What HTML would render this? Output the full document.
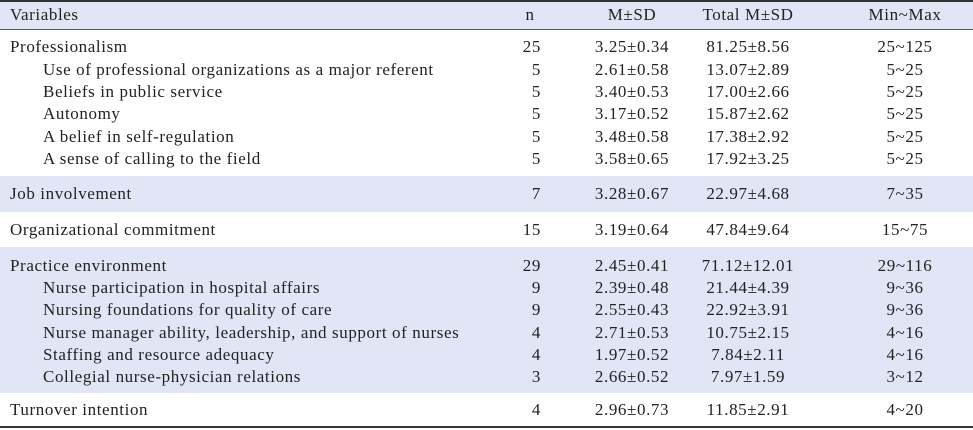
<!DOCTYPE html>
<html><head><meta charset="utf-8"><style>
body{margin:0;width:973px;height:430px;background:#fff;position:relative;overflow:hidden;font-family:"Liberation Serif",serif;font-size:17px;letter-spacing:0.6px;color:#222}
.band{position:absolute;left:0;width:973px;background:#e1e6f7}
.line{position:absolute;left:0;width:973px;background:#333}
.t{position:absolute;white-space:nowrap;line-height:20px}
.c{transform:translateX(-50%)}
.r{transform:translateX(-100%)}
</style></head><body>
<div class="band" style="top:2px;height:27px"></div>
<div class="line" style="top:0;height:2px"></div>
<div class="line" style="top:29px;height:1px;background:#555"></div>
<div class="band" style="top:176px;height:36px"></div>
<div class="band" style="top:247px;height:146px"></div>
<div class="line" style="top:426px;height:2px"></div>
<div id="tbl"></div>
<script>
const headers=["Variables","n","M±SD","Total M±SD","Min~Max"];
const labels=["Professionalism","Use of professional organizations as a major referent","Beliefs in public service","Autonomy","A belief in self-regulation","A sense of calling to the field","Job involvement","Organizational commitment","Practice environment","Nurse participation in hospital affairs","Nursing foundations for quality of care","Nurse manager ability, leadership, and support of nurses","Staffing and resource adequacy","Collegial nurse-physician relations","Turnover intention"];
const indent=[0,1,1,1,1,1,0,0,0,1,1,1,1,1,0];
const nVals=["25","5","5","5","5","5","7","15","29","9","9","4","4","3","4"];
const msd=["3.25±0.34","2.61±0.58","3.40±0.53","3.17±0.52","3.48±0.58","3.58±0.65","3.28±0.67","3.19±0.64","2.45±0.41","2.39±0.48","2.55±0.43","2.71±0.53","1.97±0.52","2.66±0.52","2.96±0.73"];
const tot=["81.25±8.56","13.07±2.89","17.00±2.66","15.87±2.62","17.38±2.92","17.92±3.25","22.97±4.68","47.84±9.64","71.12±12.01","21.44±4.39","22.92±3.91","10.75±2.15","7.84±2.11","7.97±1.59","11.85±2.91"];
const mm=["25~125","5~25","5~25","5~25","5~25","5~25","7~35","15~75","29~116","9~36","9~36","4~16","4~16","3~12","4~20"];
const rowY=[47,70,92,114,137,159,194,230,266,288,310,333,355,377,410];
const tbl=document.getElementById('tbl');
function add(txt,x,y,cls,name){const d=document.createElement('div');d.className='t '+cls;d.textContent=txt;d.style.left=x+'px';d.style.top=(y-10)+'px';


tbl.appendChild(d);}
const hx=[10,530,632,748,905];
headers.forEach((h,i)=>add(h,hx[i],15,i?'c':'','header-'+i));
labels.forEach((l,i)=>{const y=rowY[i];
add(l,indent[i]?43:10,y,'','row-label-'+i);
add(nVals[i],541,y,'r','n-'+i);
add(msd[i],632,y,'c','msd-'+i);
add(tot[i],748,y,'c','total-'+i);
add(mm[i],905,y,'c','minmax-'+i);});
</script>
</body></html>
